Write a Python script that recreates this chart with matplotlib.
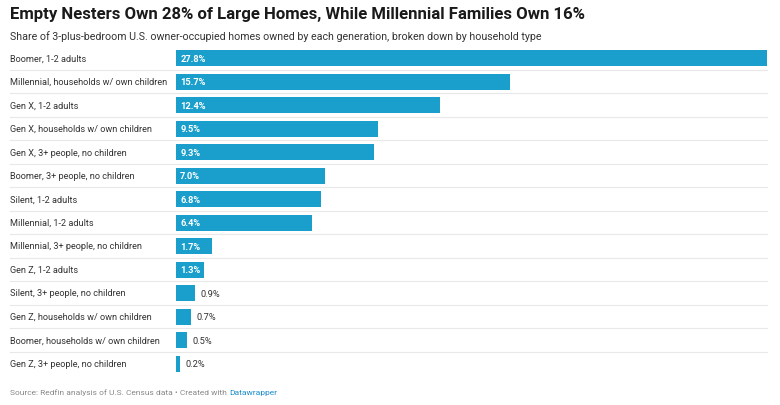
import matplotlib.pyplot as plt

plt.rcParams['font.family'] = ['Roboto', 'DejaVu Sans']

categories = [
    "Boomer, 1-2 adults",
    "Millennial, households w/ own children",
    "Gen X, 1-2 adults",
    "Gen X, households w/ own children",
    "Gen X, 3+ people, no children",
    "Boomer, 3+ people, no children",
    "Silent, 1-2 adults",
    "Millennial, 1-2 adults",
    "Millennial, 3+ people, no children",
    "Gen Z, 1-2 adults",
    "Silent, 3+ people, no children",
    "Gen Z, households w/ own children",
    "Boomer, households w/ own children",
    "Gen Z, 3+ people, no children",
]
shares = [27.8, 15.7, 12.4, 9.5, 9.3, 7.0, 6.8, 6.4, 1.7, 1.3, 0.9, 0.7, 0.5, 0.2]

title = "Empty Nesters Own 28% of Large Homes, While Millennial Families Own 16%"
subtitle = ("Share of 3-plus-bedroom U.S. owner-occupied homes owned by each "
            "generation, broken down by household type")

W, H = 780, 406
fig = plt.figure(figsize=(W / 100, H / 100), dpi=100)

# axes placed in pixel terms
left, right = 176, 767
top, bottom = 47.25, 376.75
ax = fig.add_axes([left / W, 1 - bottom / H, (right - left) / W, (bottom - top) / H])

n = len(categories)
ypos = list(range(n))
ax.barh(ypos, shares, height=0.68, color='#1a9fcc', edgecolor='none')
ax.set_xlim(0, max(shares))
ax.set_ylim(n - 0.5, -0.5)
ax.axis('off')

for i, (cat, v) in enumerate(zip(categories, shares)):
    # category label at the left of the figure
    fig.text(10 / W, 1 - (59 + i * 23.5) / H, cat, ha='left', va='center',
             fontsize=6.6, color='#333333')
    if v >= 1.2:
        ax.annotate(f"{v:.1f}%", (0, i), xytext=(3, 0), textcoords='offset points',
                    ha='left', va='center', fontsize=6.7, color='white',
                    fontweight='bold')
    else:
        ax.annotate(f"{v:.1f}%", (v, i), xytext=(4, 0), textcoords='offset points',
                    ha='left', va='center', fontsize=6.7, color='#333333')

# row separators
for i in range(n - 1):
    yy = 1 - (59 + (i + 0.5) * 23.5) / H
    fig.add_artist(plt.Line2D([10 / W, right / W], [yy, yy], color='#e8e8e8', lw=0.8))

fig.text(10 / W, 1 - 15 / H, title, ha='left', va='center', fontsize=12.1,
         fontweight='bold', color='#1a1a1a')
fig.text(10 / W, 1 - 37 / H, subtitle, ha='left', va='center', fontsize=7.7,
         color='#333333')

src = fig.text(10 / W, 1 - 393 / H, "Source: Redfin analysis of U.S. Census data \u2022 Created with ",
               ha='left', va='center', fontsize=6.05, color='#888888')
fig.canvas.draw()
bb = src.get_window_extent()
fig.text(bb.x1 / W, 1 - 393 / H, "Datawrapper", ha='left', va='center',
         fontsize=6.05, color='#1a8cc8')

fig.savefig('out.png', dpi=100, facecolor='white')
